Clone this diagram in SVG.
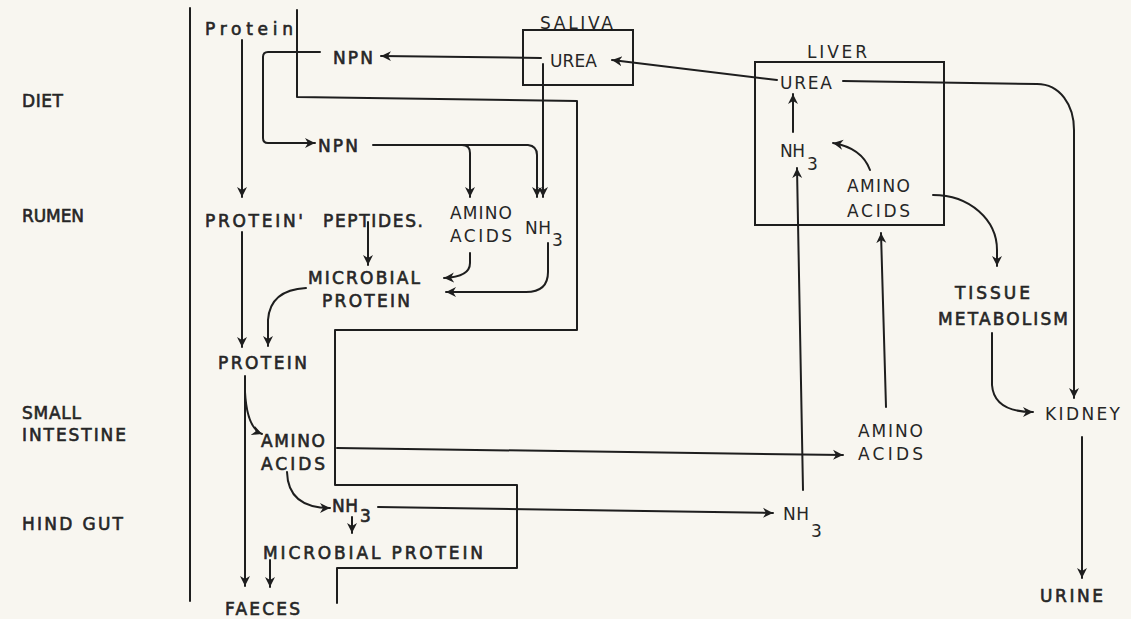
<svg xmlns="http://www.w3.org/2000/svg" width="1131" height="619" viewBox="0 0 1131 619">
<defs>
<style>
text{font-family:"DejaVu Sans","Liberation Sans",sans-serif;font-size:17px;fill:#262626}
.b text{stroke:#262626;stroke-width:0.6}
.ln{fill:none;stroke:#1e1e1e;stroke-width:2;stroke-linecap:round;stroke-linejoin:round}
.ar{marker-end:url(#ah)}
.box{fill:none;stroke:#1e1e1e;stroke-width:2}
</style>
<marker id="ah" markerUnits="userSpaceOnUse" markerWidth="12" markerHeight="12" refX="10" refY="5" orient="auto" viewBox="0 0 12 10">
<path d="M0,0 L10,5 L0,10 L3,5 z" fill="#1e1e1e"/>
</marker>
</defs>
<rect width="1131" height="619" fill="#f8f6f0"/>

<g id="zones" class="b">
<text x="22" y="107" textLength="41">DIET</text>
<text x="22" y="222" textLength="62">RUMEN</text>
<text x="22" y="419" textLength="59">SMALL</text>
<text x="22" y="441" textLength="104">INTESTINE</text>
<text x="22" y="530" textLength="101">HIND GUT</text>
</g>

<g id="walls">
<path class="ln" d="M190 8 V601"/>
<path class="ln" d="M297 10 V97 L577 101 V330 H335 V485 H517 V568 H337 V603"/>
</g>

<g id="saliva">
<rect class="box" x="523" y="30" width="110" height="55"/>
<text x="540" y="29" textLength="73">SALIVA</text>
<text x="550" y="67" textLength="47">UREA</text>
</g>

<g id="liver">
<rect class="box" x="755" y="62" width="189" height="163"/>
<text x="807" y="58" textLength="60">LIVER</text>
<text x="780" y="89" textLength="52">UREA</text>
<text x="780" y="157" textLength="25">NH</text>
<text x="807" y="170">3</text>
<text x="847" y="192" textLength="63">AMINO</text>
<text x="847" y="217" textLength="63">ACIDS</text>
</g>

<g id="diet-protein" class="b"><text x="205" y="35" textLength="88">Protein</text></g>
<g id="diet-npn" class="b"><text x="333" y="64" textLength="40">NPN</text></g>
<g id="rumen-npn" class="b"><text x="318" y="152" textLength="40">NPN</text></g>
<g id="rumen-protein" class="b"><text x="205" y="227" textLength="98">PROTEIN'</text></g>
<g id="rumen-peptides" class="b"><text x="323" y="227" textLength="100">PEPTIDES.</text></g>
<g id="rumen-amino"><text x="450" y="219" textLength="62">AMINO</text><text x="450" y="242" textLength="62">ACIDS</text></g>
<g id="rumen-nh3"><text x="525" y="234" textLength="26">NH</text><text x="552" y="246">3</text></g>
<g id="rumen-microbial" class="b"><text x="308" y="284" textLength="112">MICROBIAL</text><text x="322" y="307" textLength="88">PROTEIN</text></g>
<g id="si-protein" class="b"><text x="218" y="369" textLength="89">PROTEIN</text></g>
<g id="si-amino" class="b"><text x="261" y="447" textLength="64">AMINO</text><text x="261" y="470" textLength="64">ACIDS</text></g>
<g id="hg-nh3" class="b"><text x="332" y="512" textLength="26">NH</text><text x="360" y="522">3</text></g>
<g id="hg-microbial" class="b"><text x="263" y="559" textLength="220">MICROBIAL PROTEIN</text></g>
<g id="faeces" class="b"><text x="225" y="615" textLength="75">FAECES</text></g>
<g id="blood-amino"><text x="858" y="437" textLength="65">AMINO</text><text x="858" y="460" textLength="65">ACIDS</text></g>
<g id="blood-nh3"><text x="783" y="520" textLength="26">NH</text><text x="811" y="537">3</text></g>
<g id="tissue" class="b"><text x="955" y="299" textLength="75">TISSUE</text><text x="938" y="325" textLength="130">METABOLISM</text></g>
<g id="kidney"><text x="1045" y="420" textLength="75">KIDNEY</text></g>
<g id="urine" class="b"><text x="1040" y="602" textLength="63">URINE</text></g>

<g id="connectors">
<path class="ln ar" d="M242 40 V197"/>
<path class="ln ar" d="M541 58 L381 56"/>
<path class="ln ar" d="M320 52 H268 Q263 52 263 57 V138 Q263 143 268 143 H315"/>
<path class="ln ar" d="M373 145 H462 Q470 145 470 153 V197"/>
<path class="ln ar" d="M462 145 H528 Q537 146 537 155 V197"/>
<path class="ln ar" d="M543 64 V197"/>
<path class="ln ar" d="M368 222 V265"/>
<path class="ln ar" d="M470 253 V263 Q470 277 444 278"/>
<path class="ln ar" d="M548 243 V272 Q548 292 526 292 H446"/>
<path class="ln ar" d="M306 288 Q270 290 268 320 V346"/>
<path class="ln ar" d="M242 232 V347"/>
<path class="ln ar" d="M245 376 V586"/>
<path class="ln ar" d="M245 392 Q247 428 262 434"/>
<path class="ln ar" d="M287 472 Q288 508 330 508"/>
<path class="ln ar" d="M352 517 V533"/>
<path class="ln ar" d="M270 560 V587"/>
<path class="ln ar" d="M337 448 L843 455"/>
<path class="ln ar" d="M378 507 L773 513"/>
<path class="ln ar" d="M803 490 L797 168"/>
<path class="ln ar" d="M886 407 L881 233"/>
<path class="ln ar" d="M793 132 V94"/>
<path class="ln ar" d="M870 170 Q862 148 833 143"/>
<path class="ln ar" d="M777 80 L612 60"/>
<path class="ln ar" d="M843 81 L1037 84 C1060 84 1074 105 1074 130 V398"/>
<path class="ln ar" d="M933 195 C970 195 997 220 997 250 V266"/>
<path class="ln ar" d="M992 333 V385 Q994 412 1033 412"/>
<path class="ln ar" d="M1082 437 V578"/>
</g>
</svg>
